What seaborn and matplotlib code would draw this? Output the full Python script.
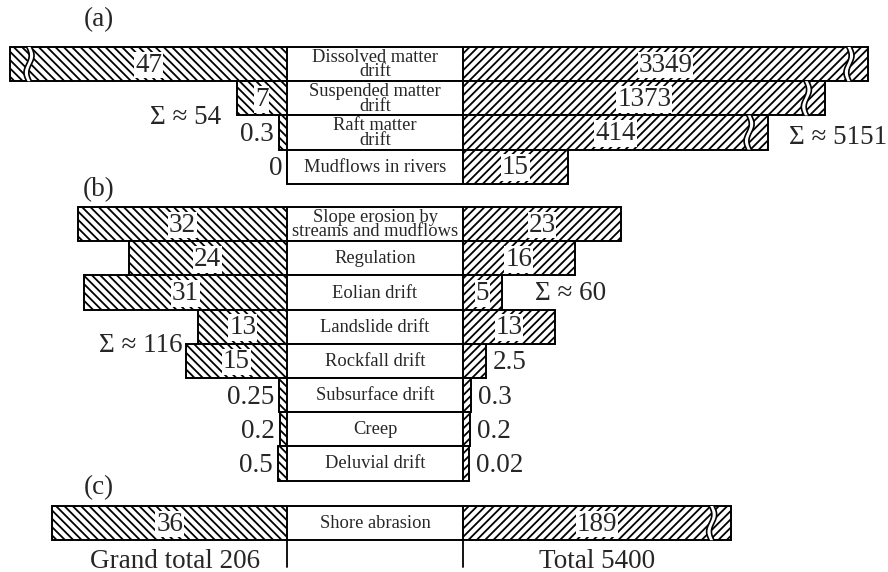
import numpy as np
import pandas as pd
import matplotlib
matplotlib.use("Agg")
import matplotlib.pyplot as plt
import seaborn as sns
from matplotlib.patches import Rectangle, Polygon

# ---------------------------------------------------------------------------
# Sediment budget items: left column and right column values per item
# ---------------------------------------------------------------------------
panel_names = ["(a)", "(b)", "(c)"]

items_a = ["Dissolved matter\ndrift", "Suspended matter\ndrift",
           "Raft matter\ndrift", "Mudflows in rivers"]
left_a = [47, 7, 0.3, 0]
right_a = [3349, 1373, 414, 15]

items_b = ["Slope erosion by\nstreams and mudflows", "Regulation",
           "Eolian drift", "Landslide drift", "Rockfall drift",
           "Subsurface drift", "Creep", "Deluvial drift"]
left_b = [32, 24, 31, 13, 15, 0.25, 0.2, 0.5]
right_b = [23, 16, 5, 13, 2.5, 0.3, 0.2, 0.02]

items_c = ["Shore abrasion"]
left_c = [36]
right_c = [189]

# ---------------------------------------------------------------------------
# Layout (figure pixels)
# ---------------------------------------------------------------------------
W, H = 888, 572
BOX_L, BOX_R = 287, 463
ROW_H = 34.2
PANEL_TOP = [47, 207, 506]
SERIF = ["Liberation Serif", "DejaVu Serif"]
BIG = 19.5
SMALL = 13.3

sns.set_theme(style="white")
plt.rcParams["font.family"] = SERIF
plt.rcParams["hatch.linewidth"] = 1.3
plt.rcParams["hatch.color"] = "black"


def broken_scale(w0, slope, v_break, k):
    """Linear bar length up to v_break, logarithmically compressed beyond."""
    p_break = w0 + slope * v_break

    def fwd(v):
        v = np.asarray(v, dtype=float)
        lin = np.where(v > 0, w0 + slope * np.clip(v, 0, v_break), 0.0)
        extra = np.where(v > v_break,
                         k * np.log10(np.maximum(v, v_break) / v_break), 0.0)
        return lin + extra

    def inv(p):
        p = np.asarray(p, dtype=float)
        lin = np.clip((p - w0) / slope, 0, v_break)
        expo = np.clip((p - p_break) / k, 0, 30)
        return np.where(p > p_break, v_break * 10 ** expo, lin)

    return fwd, inv, v_break


left_fwd, left_inv, left_vb = broken_scale(6, 6.35, 36, 366)
right_fwd, right_inv, right_vb = broken_scale(6, 6.6, 25, 110)

# Tidy table of all rows
rows = []
for p, (items, lv, rv) in enumerate([(items_a, left_a, right_a),
                                     (items_b, left_b, right_b),
                                     (items_c, left_c, right_c)]):
    for i, (name, l, r) in enumerate(zip(items, lv, rv)):
        rows.append(dict(panel=p, item=name, left=l, right=r,
                         top=PANEL_TOP[p] + i * ROW_H,
                         y=PANEL_TOP[p] + (i + 0.5) * ROW_H))
df = pd.DataFrame(rows)

fig = plt.figure(figsize=(W / 100, H / 100), dpi=100)

# background axes in pixel coordinates: boxes and outer text
ax_bg = fig.add_axes([0, 0, 1, 1])
ax_bg.set_xlim(0, W)
ax_bg.set_ylim(H, 0)
ax_bg.set_axis_off()

# side axes carrying the bars
ax_l = fig.add_axes([0, 0, BOX_L / W, 1])
ax_r = fig.add_axes([BOX_R / W, 0, (W - BOX_R) / W, 1])
for ax in (ax_l, ax_r):
    ax.patch.set_alpha(0)

ax_l.set_xscale("function", functions=(left_fwd, left_inv))
ax_r.set_xscale("function", functions=(right_fwd, right_inv))

sns.barplot(data=df, x="left", y="y", orient="y", native_scale=True,
            width=1, color="white", saturation=1, edgecolor="black",
            linewidth=1.4, errorbar=None, ax=ax_l)
sns.barplot(data=df, x="right", y="y", orient="y", native_scale=True,
            width=1, color="white", saturation=1, edgecolor="black",
            linewidth=1.4, errorbar=None, ax=ax_r)

for p in ax_l.patches:
    p.set_hatch("\\\\\\\\")
for p in ax_r.patches:
    p.set_hatch("////")

ax_l.set_xlim(float(left_inv(BOX_L)), 0)
ax_r.set_xlim(0, float(right_inv(W - BOX_R)))
for ax in (ax_l, ax_r):
    ax.set_ylim(H, 0)
    ax.set_axis_off()

# overlay axes for break marks and in-bar values
ax_top = fig.add_axes([0, 0, 1, 1])
ax_top.set_xlim(0, W)
ax_top.set_ylim(H, 0)
ax_top.patch.set_alpha(0)
ax_top.set_axis_off()

# item boxes and names
for _, r in df.iterrows():
    ax_bg.add_patch(Rectangle((BOX_L, r.top), BOX_R - BOX_L, ROW_H,
                              facecolor="white", edgecolor="black", lw=1.4,
                              zorder=1))
    ax_bg.text((BOX_L + BOX_R) / 2, r.y + 0.5, r["item"], ha="center",
               va="center", fontsize=SMALL, linespacing=0.82, zorder=2)


def draw_break(x_end, direction, top):
    """White wavy gap across a bar, about 19 px in from its outer end."""
    xc = x_end - direction * 19
    t = np.linspace(0, 1, 40)
    ys = top + t * ROW_H
    wave = 2.6 * np.sin(2 * np.pi * t)
    xa = xc - 2.4 + wave
    xb = xc + 2.4 + wave
    poly = np.vstack([np.column_stack([xa, ys]),
                      np.column_stack([xb[::-1], ys[::-1]])])
    ax_top.add_patch(Polygon(poly, closed=True, facecolor="white",
                             edgecolor="none", zorder=3))
    ax_top.plot(xa, ys, color="black", lw=1.2, zorder=4)
    ax_top.plot(xb, ys, color="black", lw=1.2, zorder=4)


label_box = dict(facecolor="white", edgecolor="none", pad=0.6)

for _, r in df.iterrows():
    # left side
    lv = r.left
    lx = BOX_L - float(left_fwd(lv))
    if lv > left_vb:
        draw_break(lx, -1, r.top)
    if lv >= 5:
        ax_top.text((lx + BOX_L) / 2, r.y + 1, f"{lv:g}", ha="center",
                    va="center", fontsize=BIG, bbox=label_box, zorder=5)
    else:
        ax_top.text(lx - 5, r.y + 2, f"{lv:g}", ha="right", va="center",
                    fontsize=BIG, zorder=5)
    # right side
    rv = r.right
    rx = BOX_R + float(right_fwd(rv))
    if rv > right_vb:
        draw_break(rx, 1, r.top)
    if rv >= 5:
        ax_top.text((BOX_R + rx) / 2, r.y + 1, f"{rv:g}", ha="center",
                    va="center", fontsize=BIG, bbox=label_box, zorder=5)
    else:
        ax_top.text(rx + 7, r.y + 2, f"{rv:g}", ha="left", va="center",
                    fontsize=BIG, zorder=5)

# panel sums
sum_l = df.groupby("panel")["left"].sum()
sum_r = df.groupby("panel")["right"].sum()
ax_bg.text(221, 118, f"Σ ≈ {sum_l[0]:.0f}", ha="right", va="center",
           fontsize=BIG)
ax_bg.text(789, 137, f"Σ ≈ {sum_r[0]:.0f}", ha="left", va="center",
           fontsize=BIG)
ax_bg.text(535, 293, f"Σ ≈ {sum_r[1]:.0f}", ha="left", va="center",
           fontsize=BIG)
ax_bg.text(183, 345, f"Σ ≈ {sum_l[1]:.0f}", ha="right", va="center",
           fontsize=BIG)

# panel tags
for name, y in zip(panel_names, [20, 190, 488]):
    ax_bg.text(99, y, name, ha="center", va="center", fontsize=BIG)

# totals under the last panel
base = PANEL_TOP[2] + ROW_H
ax_bg.plot([BOX_L, BOX_L], [base, base + 27], color="black", lw=1.3)
ax_bg.plot([BOX_R, BOX_R], [base, base + 27], color="black", lw=1.3)
ax_bg.text(175, 561, f"Grand total {df['left'].sum():.0f}", ha="center",
           va="center", fontsize=BIG)
ax_bg.text(597, 561, f"Total {df['right'].sum():.0f}", ha="center",
           va="center", fontsize=BIG)

fig.savefig("out.png", dpi=100, facecolor="white")
